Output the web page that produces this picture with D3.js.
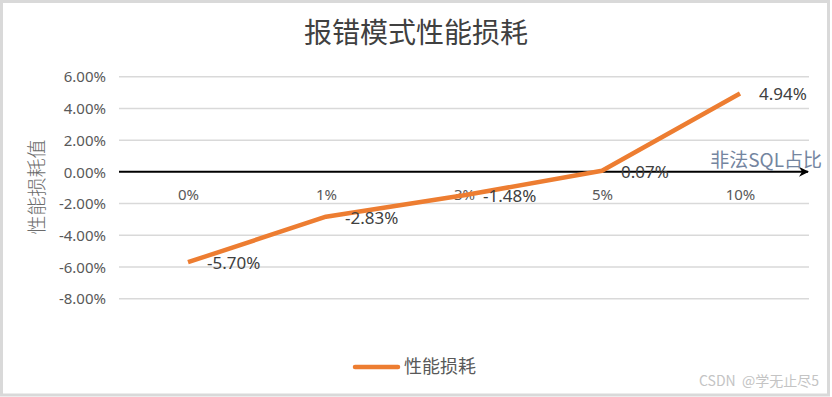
<!DOCTYPE html>
<html>
<head>
<meta charset="utf-8">
<script src="https://cdn.jsdelivr.net/npm/d3@7"></script>
<style>
    html, body { margin: 0; padding: 0; background: #fff; }
    svg { display: block; font-family: 'Noto Sans', 'Noto Sans CJK SC', sans-serif; }
</style>
</head>
<body>
<div id="chart"></div>
<script>
const categories = ['0%', '1%', '3%', '5%', '10%'];
const values = [-5.70, -2.83, -1.48, 0.07, 4.94];
const yTicks = [-8, -6, -4, -2, 0, 2, 4, 6];

const chartTitle = '报错模式性能损耗';
const yTitle = '性能损耗值';
const xTitle = '非法SQL占比';
const seriesName = '性能损耗';

const plotChart = () => {
    const width = 832;
    const height = 397;
    const orange = '#ed7d31';

    const svg = d3.select('#chart').append('svg')
        .attr('width', width)
        .attr('height', height);

    // outer frame
    svg.append('rect')
        .attr('x', 1.5).attr('y', 1.5)
        .attr('width', 827).attr('height', 393.5)
        .attr('fill', '#fff')
        .attr('stroke', '#d9d9d9')
        .attr('stroke-width', 3);

    const x = d3.scalePoint().domain(categories).range([119, 809]).padding(0.5);
    const y = d3.scaleLinear().domain([-8, 6]).range([298.7, 76.7]);

    // gridlines
    svg.selectAll('.grid')
        .data(yTicks.filter((d) => d !== 0))
        .enter()
        .append('line')
        .attr('x1', 119).attr('x2', 809)
        .attr('y1', (d) => y(d)).attr('y2', (d) => y(d))
        .attr('stroke', '#d9d9d9')
        .attr('stroke-width', 1.5);

    // y axis labels
    const yAxis = d3.axisLeft(y).tickValues(yTicks).tickSize(0).tickPadding(0)
        .tickFormat((d) => d.toFixed(2) + '%');
    const yg = svg.append('g').attr('transform', 'translate(106,0)').call(yAxis);
    yg.select('.domain').remove();
    yg.selectAll('text')
        .style('font-size', '15px')
        .style('font-family', "'Noto Sans', sans-serif")
        .attr('fill', '#595959')
        .attr('dy', '0.35em');

    // zero axis with arrow
    svg.append('defs').append('marker')
        .attr('id', 'arrow')
        .attr('viewBox', '0 0 10 10')
        .attr('refX', 9).attr('refY', 5)
        .attr('markerWidth', 5).attr('markerHeight', 5)
        .attr('orient', 'auto')
        .append('path')
        .attr('d', 'M0,0 L10,5 L0,10 L3,5 Z')
        .attr('fill', '#000');

    svg.append('line')
        .attr('x1', 119).attr('x2', 808)
        .attr('y1', y(0)).attr('y2', y(0))
        .attr('stroke', '#000')
        .attr('stroke-width', 2)
        .attr('marker-end', 'url(#arrow)');

    // category labels
    const xAxis = d3.axisBottom(x).tickSize(0).tickPadding(0);
    const xg = svg.append('g').attr('transform', 'translate(0,' + (y(0) + 23) + ')').call(xAxis);
    xg.select('.domain').remove();
    xg.selectAll('text')
        .style('font-size', '15px')
        .style('font-family', "'Noto Sans', sans-serif")
        .attr('fill', '#595959')
        .attr('dy', '0.35em');

    // series line
    const line = d3.line()
        .x((d, i) => x(categories[i]))
        .y((d) => y(d));

    svg.append('path')
        .datum(values)
        .attr('d', line)
        .attr('fill', 'none')
        .attr('stroke', orange)
        .attr('stroke-width', 4.5)
        .attr('stroke-linejoin', 'round');

    // data labels
    svg.selectAll('.label')
        .data(values)
        .enter()
        .append('text')
        .attr('class', 'label')
        .attr('x', (d, i) => x(categories[i]) + 19)
        .attr('y', (d) => y(d) + 1)
        .attr('dy', '0.35em')
        .attr('fill', '#404040')
        .style('font-size', '17px')
        .text((d) => d.toFixed(2) + '%');

    // title
    svg.append('text')
        .attr('x', 416).attr('y', 33)
        .attr('dy', '0.35em')
        .attr('text-anchor', 'middle')
        .attr('fill', '#404040')
        .style('font-family', "'Noto Sans CJK SC', sans-serif")
        .style('font-size', '28px')
        .style('font-weight', 400)
        .text(chartTitle);

    // y title
    svg.append('text')
        .attr('transform', 'translate(37,187) rotate(-90)')
        .attr('dy', '0.35em')
        .attr('text-anchor', 'middle')
        .attr('fill', '#6b6b6b')
        .style('font-family', "'Noto Sans CJK SC', sans-serif")
        .style('font-size', '19px')
        .style('font-weight', 300)
        .text(yTitle);

    // x title
    svg.append('text')
        .attr('x', 822).attr('y', 160)
        .attr('dy', '0.35em')
        .attr('text-anchor', 'end')
        .attr('fill', '#7485a0')
        .style('font-family', "'Noto Sans CJK SC', sans-serif")
        .style('font-size', '19px')
        .text(xTitle);

    // legend
    svg.append('line')
        .attr('x1', 355).attr('x2', 398)
        .attr('y1', 367).attr('y2', 367)
        .attr('stroke', orange)
        .attr('stroke-width', 4.5)
        .attr('stroke-linecap', 'round');

    svg.append('text')
        .attr('x', 404).attr('y', 367)
        .attr('dy', '0.35em')
        .attr('fill', '#595959')
        .style('font-family', "'Noto Sans CJK SC', sans-serif")
        .style('font-size', '18px')
        .text(seriesName);

    // watermark
    svg.append('text')
        .attr('x', 819).attr('y', 381)
        .attr('dy', '0.35em')
        .attr('text-anchor', 'end')
        .attr('fill', '#c4c4c4')
        .style('font-family', "'Noto Sans CJK SC', sans-serif")
        .style('font-size', '14px')
        .style('white-space', 'pre')
        .text('CSDN  @学无止尽5');
};

plotChart();
</script>
</body>
</html>
